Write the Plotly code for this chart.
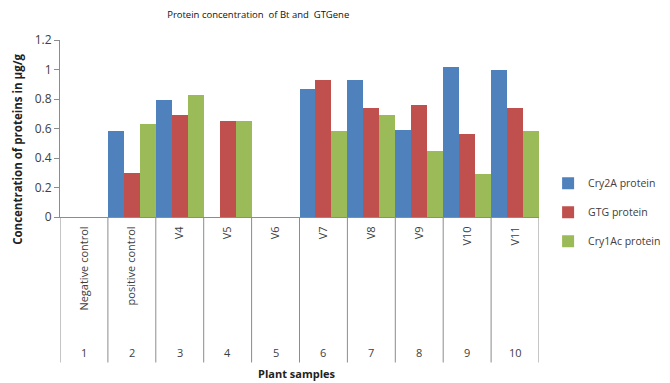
import plotly.graph_objects as go

samples = ["Negative control", "positive control", "V4", "V5", "V6", "V7", "V8", "V9", "V10", "V11"]
sample_numbers = ["1", "2", "3", "4", "5", "6", "7", "8", "9", "10"]
cry2a = [0, 0.58, 0.79, 0, 0, 0.87, 0.93, 0.59, 1.02, 1.00]
gtg = [0, 0.30, 0.69, 0.65, 0, 0.93, 0.74, 0.76, 0.56, 0.74]
cry1ac = [0, 0.63, 0.83, 0.65, 0, 0.58, 0.69, 0.45, 0.29, 0.58]
series_names = ["Cry2A protein", "GTG protein", "Cry1Ac protein"]
colors = ["#4F81BD", "#C0504D", "#9BBB59"]

FONT = "Open Sans"
fig = go.Figure()
for i, (name, vals, col) in enumerate(zip(series_names, [cry2a, gtg, cry1ac], colors)):
    fig.add_trace(go.Bar(x=samples, y=vals, name=name, marker_color=col,
                         marker_line_width=0, legendgroup=str(i)))

# separators between categories (table-like area under the axis)
n = len(samples)
for k in range(n + 1):
    fig.add_shape(type="line", xref="x", yref="paper", x0=k - 0.5, x1=k - 0.5,
                  y0=0, y1=-0.822, line=dict(color="#8c8c8c", width=1))

# sample numbers
for s, num in zip(samples, sample_numbers):
    fig.add_annotation(x=s, y=-0.766, xref="x", yref="paper", text=num,
                       xanchor="center", yanchor="middle",
                       showarrow=False, font=dict(family=FONT, size=11, color="#404040"))

fig.add_annotation(x=0.495, y=-0.885, xref="paper", yref="paper", text="<b>Plant samples</b>",
                   xanchor="center", yanchor="middle",
                   showarrow=False, font=dict(family=FONT, size=11, color="#222"))
fig.add_annotation(x=-0.0877, y=0.385, xref="paper", yref="paper",
                   text="<b>Concentration of proteins in μg/g</b>", textangle=-90,
                   xanchor="center", yanchor="middle",
                   showarrow=False, font=dict(family=FONT, size=11.5, color="#222"))

# page has an 8px body margin, so the figure is 8px smaller and offset
fig.update_layout(
    width=662, height=375,
    margin=dict(l=52, r=131, t=32, b=166, autoexpand=False),
    paper_bgcolor="white", plot_bgcolor="white",
    barmode="group", bargap=0, bargroupgap=0,
    title=dict(text="Protein concentration  of Bt and  GTGene", x=0.378, xanchor="center",
               y=0.992, yanchor="top", pad=dict(t=0, b=0),
               font=dict(family=FONT, size=9.5, color="#111")),
    font=dict(family=FONT, size=11, color="#404040"),
    legend=dict(x=1.019, y=0.027, xanchor="left", yanchor="middle",
                traceorder="grouped", tracegroupgap=10,
                font=dict(family=FONT, size=10.5, color="#404040"),
                itemwidth=30),
    showlegend=True,
)
fig.update_xaxes(type="category", range=[-0.5, n - 0.5], tickangle=-90,
                 showline=True, linecolor="#8c8c8c", ticks="", automargin=False,
                 tickfont=dict(family=FONT, size=11, color="#404040"),
                 showgrid=False, ticklabelstandoff=4)
fig.update_yaxes(range=[0, 1.2], dtick=0.2, showline=True, linecolor="#8c8c8c",
                 ticks="outside", ticklen=5, tickcolor="#8c8c8c", showgrid=False,
                 automargin=False,
                 zeroline=False, tickfont=dict(family=FONT, size=12, color="#404040"))

fig.write_html("out.html")
